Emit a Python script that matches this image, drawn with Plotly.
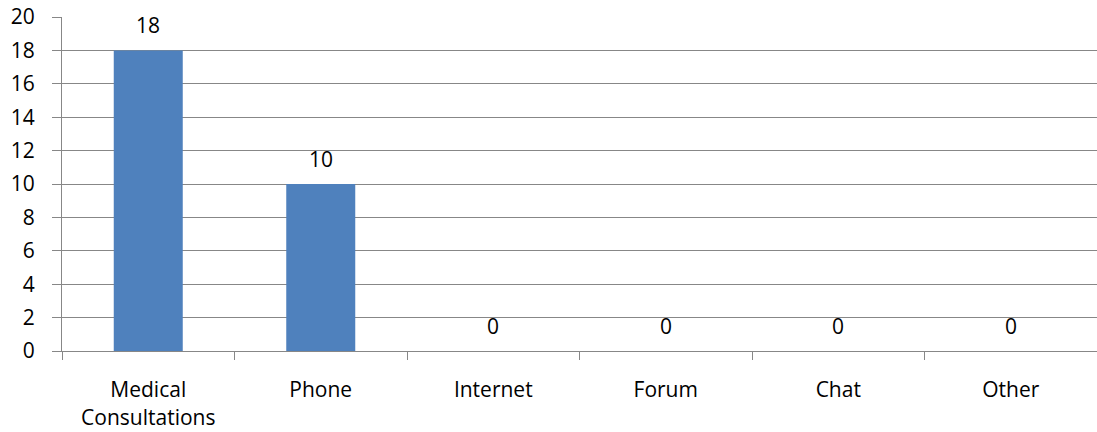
import plotly.graph_objects as go

categories = ["Medical<br>Consultations", "Phone", "Internet", "Forum", "Chat", "Other"]
values = [18, 10, 0, 0, 0, 0]
y_ticks = [0, 2, 4, 6, 8, 10, 12, 14, 16, 18, 20]

FONT = "Open Sans"
GRID = "#878787"
FS = 21

fig = go.Figure()
fig.add_trace(go.Bar(x=categories, y=values, marker=dict(color="#4F81BD", line=dict(width=0)),
                     width=0.4, hoverinfo="skip"))

for c, v in zip(categories, values):
    fig.add_annotation(x=c, y=v, text=str(v), showarrow=False, yanchor="bottom",
                       yshift=9, font=dict(family=FONT, size=FS, color="black"))

fig.update_layout(
    width=1097, height=432,
    margin=dict(l=62, r=0, t=17, b=81),
    paper_bgcolor="white", plot_bgcolor="white",
    showlegend=False,
    font=dict(family=FONT, size=FS, color="black"),
    bargap=0.6,
)
fig.update_xaxes(
    type="category", tickson="boundaries", ticks="outside", ticklen=8, tickcolor=GRID, tickwidth=1,
    showline=True, linecolor=GRID, linewidth=1, showgrid=False,
    tickfont=dict(family=FONT, size=FS, color="black"), ticklabelstandoff=20,
)
fig.update_yaxes(
    range=[0, 20], tickvals=y_ticks, ticks="outside", ticklen=9, tickcolor=GRID, tickwidth=1,
    showline=True, linecolor=GRID, linewidth=1, showgrid=True, gridcolor=GRID, gridwidth=1,
    zeroline=False, tickfont=dict(family=FONT, size=FS, color="black"), ticklabelstandoff=13,
)

fig.write_html("out.html")
